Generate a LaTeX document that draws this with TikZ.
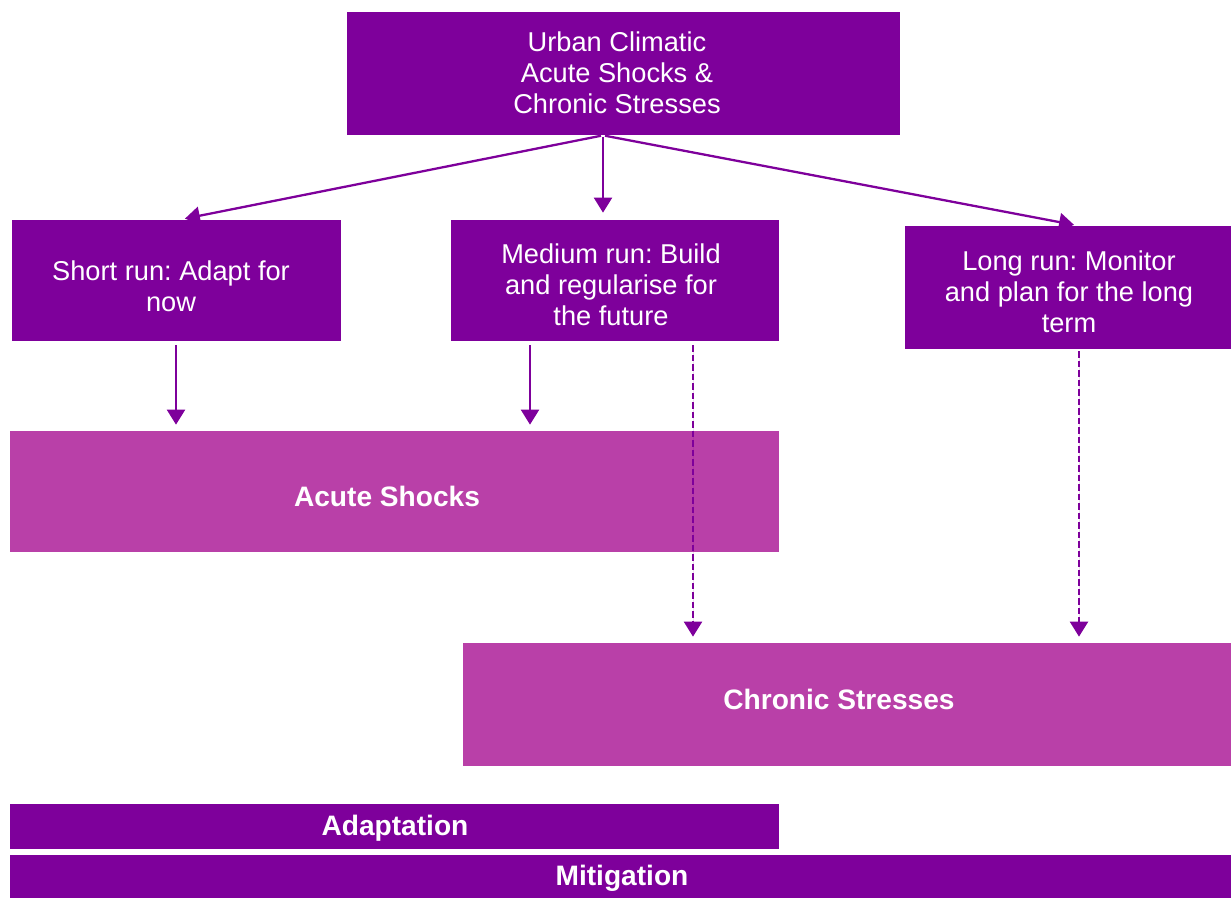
\documentclass[tikz,border=0pt]{standalone}
\usepackage{fontspec}
\setmainfont{Liberation Sans}
\usetikzlibrary{arrows.meta,fit}
\definecolor{dpurple}{RGB}{126,0,155}
\definecolor{pinkbox}{RGB}{185,64,168}
\begin{document}
\frenchspacing
\begin{tikzpicture}[x=0.02cm,y=-0.02cm,
  box/.style={fill=dpurple,draw=none,inner sep=0pt},
  pbox/.style={fill=pinkbox,draw=none,inner sep=0pt},
  lbl/.style={text=white,align=center,inner sep=0pt,
    font=\fontsize{15.5}{17.6}\selectfont},
  blbl/.style={lbl,font=\fontsize{16}{17.6}\selectfont\bfseries},
  arr/.style={draw=dpurple,line width=1.3pt,-{Triangle[width=0.36cm,length=0.3cm]},fill=dpurple},
  darr/.style={arr,dash pattern=on 0.13cm off 0.06cm}]
\useasboundingbox (0,0) rectangle (1231,898);
\node[box,fit={(347,12) (900,135)}] (top) {};
\node[box,fit={(12,220) (341,341)}] (short) {};
\node[box,fit={(451,220) (779,341)}] (medium) {};
\node[box,fit={(905,226) (1231,349)}] (long) {};
\node[pbox,fit={(10,431) (779,552)}] (acute) {};
\node[pbox,fit={(463,643) (1231,766)}] (chronic) {};
\node[box,fit={(10,804) (779,849)}] (adapt) {};
\node[box,fit={(10,855) (1231,898)}] (mitig) {};
\node[lbl] (topt) at (617,73) {Urban Climatic\\Acute Shocks \&\\Chronic Stresses};
\node[lbl] (shortt) at (171,286) {Short run: Adapt for\\now};
\node[lbl] (mediumt) at (611,285) {Medium run: Build\\and regularise for\\the future};
\node[lbl] (longt) at (1069,292) {Long run: Monitor\\and plan for the long\\term};
\node[blbl] (acutet) at (387,496) {Acute Shocks};
\node[blbl] (chronict) at (839,699) {Chronic Stresses};
\node[blbl] (adaptt) at (395,828) {Adaptation};
\node[blbl] (mitigt) at (622,878) {Mitigation};
% x positions of connectors
\coordinate (xsrc) at (603,0);
\coordinate (xs) at (180,0);
\coordinate (xl) at (1078,0);
\coordinate (xa) at (176,0);
\coordinate (xb) at (530,0);
\coordinate (xc) at (693,0);
\coordinate (xd) at (1079,0);
\draw[arr,shorten <=0.04cm,shorten >=0.1cm] (top.south -| xsrc) -- (short.north -| xs);
\draw[arr,shorten <=0.04cm,shorten >=0.14cm] (top.south -| xsrc) -- (medium.north -| xsrc);
\draw[arr,shorten <=0.04cm,shorten >=0.08cm] (top.south -| xsrc) -- (long.north -| xl);
\draw[arr,shorten <=0.08cm,shorten >=0.12cm] (short.south -| xa) -- (acute.north -| xa);
\draw[arr,shorten <=0.08cm,shorten >=0.12cm] (medium.south -| xb) -- (acute.north -| xb);
\draw[darr,shorten <=0.08cm,shorten >=0.12cm] (medium.south -| xc) -- (chronic.north -| xc);
\draw[darr,shorten <=0.04cm,shorten >=0.12cm] (long.south -| xd) -- (chronic.north -| xd);
\end{tikzpicture}
\end{document}
